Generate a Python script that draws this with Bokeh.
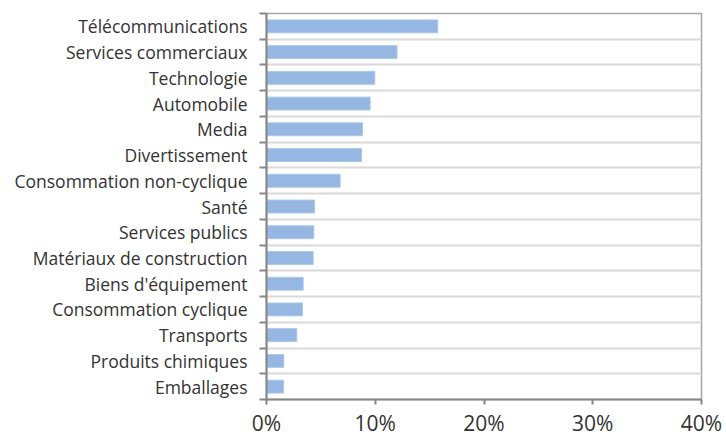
from bokeh.plotting import figure
from bokeh.models import Range1d, FixedTicker, NumeralTickFormatter, ColumnDataSource
from bokeh.embed import file_html
from bokeh.resources import INLINE

categories = [
    "Télécommunications", "Services commerciaux", "Technologie", "Automobile",
    "Media", "Divertissement", "Consommation non-cyclique", "Santé",
    "Services publics", "Matériaux de construction", "Biens d'équipement",
    "Consommation cyclique", "Transports", "Produits chimiques", "Emballages",
]
values = [15.75, 12.0, 9.96, 9.53, 8.83, 8.74, 6.77, 4.41, 4.35, 4.29, 3.37, 3.31, 2.79, 1.59, 1.56]
x_ticks = [0, 10, 20, 30, 40]

n = len(categories)
y_centers = [n - i - 0.5 for i in range(n)]
boundaries = list(range(0, n + 1))

source = ColumnDataSource(dict(y=y_centers, v=[v / 100 for v in values], cat=categories))

FONT = "Open Sans"
TXT = "#333333"

p = figure(width=724, height=439, x_range=Range1d(0, x_ticks[-1] / 100), y_range=Range1d(0, n),
           output_backend="svg", toolbar_location=None,
           min_border_left=266, min_border_right=23, min_border_top=13, min_border_bottom=34)

p.hbar(y="y", right="v", left=0, height=0.5, source=source,
       fill_color="#95b7e2", line_color="#a9c6ea", line_width=1)

# x axis
p.xaxis.ticker = FixedTicker(ticks=[t / 100 for t in x_ticks], minor_ticks=[])
p.xaxis.formatter = NumeralTickFormatter(format="0%")
p.xaxis.axis_line_color = "#868686"
p.xaxis.axis_line_width = 2
p.xaxis.major_tick_line_color = "#868686"
p.xaxis.major_tick_line_width = 2
p.xaxis.major_tick_out = 5
p.xaxis.major_tick_in = 0
p.xaxis.minor_tick_line_color = None
p.xaxis.major_label_standoff = 4
p.xaxis.major_label_text_font = FONT
p.xaxis.major_label_text_font_size = "21px"
p.xaxis.major_label_text_color = TXT

# y axis
p.yaxis.ticker = FixedTicker(ticks=y_centers, minor_ticks=boundaries)
p.yaxis.major_label_overrides = {y: c for y, c in zip(y_centers, categories)}
p.yaxis.axis_line_color = "#868686"
p.yaxis.axis_line_width = 2
p.yaxis.major_tick_line_color = None
p.yaxis.major_tick_out = 0
p.yaxis.major_tick_in = 0
p.yaxis.minor_tick_line_color = "#868686"
p.yaxis.minor_tick_line_width = 2
p.yaxis.minor_tick_out = 7
p.yaxis.minor_tick_in = 0
p.yaxis.major_label_standoff = 12
p.yaxis.major_label_text_font = FONT
p.yaxis.major_label_text_font_size = "17.5px"
p.yaxis.major_label_text_color = TXT

p.xgrid.visible = False
p.ygrid.ticker = FixedTicker(ticks=boundaries[1:-1])
p.ygrid.grid_line_color = "#d9d9d9"
p.ygrid.grid_line_width = 2

p.outline_line_color = "#a6a6a6"
p.outline_line_width = 1.5

open("out.html", "w").write(file_html(p, INLINE))
